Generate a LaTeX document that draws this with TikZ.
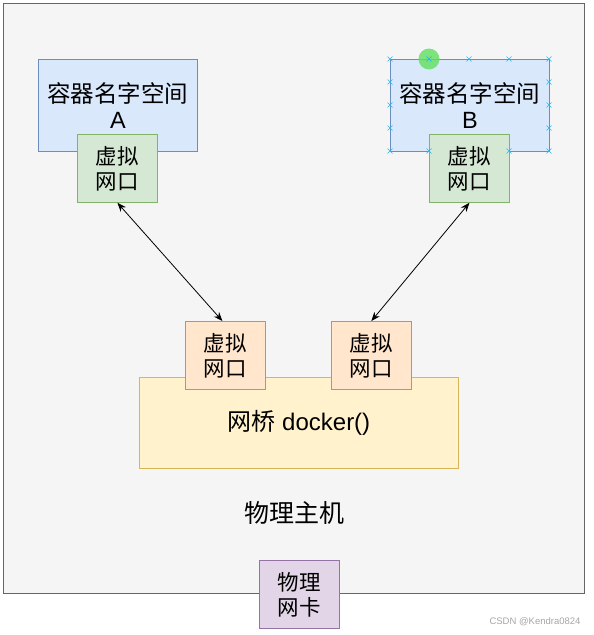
\documentclass[tikz,border=0pt]{standalone}
\usepackage{fontspec}
\setmainfont{Liberation Sans}
\newfontfamily\cjk{Noto Sans CJK SC}
\usetikzlibrary{arrows.meta}
\definecolor{outerfill}{HTML}{F5F5F5}
\definecolor{outerline}{HTML}{666666}
\definecolor{bluefill}{HTML}{DAE8FC}
\definecolor{blueline}{HTML}{6C8EBF}
\definecolor{greenfill}{HTML}{D5E8D4}
\definecolor{greenline}{HTML}{82B366}
\definecolor{orangefill}{HTML}{FFE6CC}
\definecolor{orangeline}{HTML}{D79B00}
\definecolor{yellowfill}{HTML}{FFF2CC}
\definecolor{yellowline}{HTML}{D6B656}
\definecolor{purplefill}{HTML}{E1D5E7}
\definecolor{purpleline}{HTML}{9673A6}
\definecolor{handle}{HTML}{29B6F2}
\definecolor{grip}{HTML}{5FE05F}
\tikzset{
  box/.style={draw, line width=0.8pt, inner sep=0pt, align=center, anchor=north west},
  nsbox/.style={box, fill=bluefill, draw=blueline, minimum width=159pt, minimum height=92pt, font=\fontsize{23.5}{26}\selectfont},
  vport/.style={box, minimum width=80pt, minimum height=68pt, font=\fontsize{21.5}{25}\selectfont},
  greenport/.style={vport, fill=greenfill, draw=greenline},
  orangeport/.style={vport, fill=orangefill, draw=orangeline},
  link/.style={line width=0.8pt, {Stealth[length=9pt,width=7pt]}-{Stealth[length=9pt,width=7pt]}},
  hmark/.style={handle, line width=0.6pt},
}
\begin{document}
\begin{tikzpicture}[x=1pt,y=-1pt]
\useasboundingbox (0,0) rectangle (594,635);
\fill[white] (0,0) rectangle (594,635);
\node[box, fill=outerfill, draw=outerline, minimum width=581pt, minimum height=590pt] (host) at (3,3) {};
\node[font=\fontsize{25}{28}\selectfont\cjk] (hostlabel) at (294,513) {物理主机};
\node[nsbox] (nsA) at (38,59) {{\cjk 容器名字空间}\\A};
\node[greenport] (vpA) at (77,134) {\cjk 虚拟\\\cjk 网口};
\node[nsbox] (nsB) at (390,59) {{\cjk 容器名字空间}\\B};
\node[greenport] (vpB) at (429,134) {\cjk 虚拟\\\cjk 网口};
\node[box, fill=yellowfill, draw=yellowline, minimum width=319pt, minimum height=91pt, font=\fontsize{24}{26}\selectfont] (bridge) at (139,377) {{\cjk 网桥} docker()};
\node[orangeport] (bpL) at (185,321) {\cjk 虚拟\\\cjk 网口};
\node[orangeport] (bpR) at (331,321) {\cjk 虚拟\\\cjk 网口};
\node[box, fill=purplefill, draw=purpleline, minimum width=80pt, minimum height=68pt, font=\fontsize{21.5}{25}\selectfont] (nic) at (259,560) {\cjk 物理\\\cjk 网卡};
\draw[link] (vpA.south) -- ([xshift=-3pt]bpL.north);
\draw[link] (vpB.south) -- (bpR.north);
% selection handles on nsB
\foreach \px in {390,429,469,509,549} {
  \draw[hmark] (\px-2.5,59-2.5) -- (\px+2.5,59+2.5) (\px-2.5,59+2.5) -- (\px+2.5,59-2.5);
}
\foreach \px in {390,429,509,549} {
  \draw[hmark] (\px-2.5,151-2.5) -- (\px+2.5,151+2.5) (\px-2.5,151+2.5) -- (\px+2.5,151-2.5);
}
\foreach \py in {82,105,128} {
  \draw[hmark] (390-2.5,\py-2.5) -- (390+2.5,\py+2.5) (390-2.5,\py+2.5) -- (390+2.5,\py-2.5);
  \draw[hmark] (549-2.5,\py-2.5) -- (549+2.5,\py+2.5) (549-2.5,\py+2.5) -- (549+2.5,\py-2.5);
}
\fill[grip, opacity=0.8] (429,59) circle (10.5pt);
\draw[hmark] (429-2.5,59-2.5) -- (429+2.5,59+2.5) (429-2.5,59+2.5) -- (429+2.5,59-2.5);
\node[text=black!35, font=\fontsize{9.5}{11}\selectfont, anchor=east] (wm) at (584,622) {CSDN @Kendra0824};
\end{tikzpicture}
\end{document}
